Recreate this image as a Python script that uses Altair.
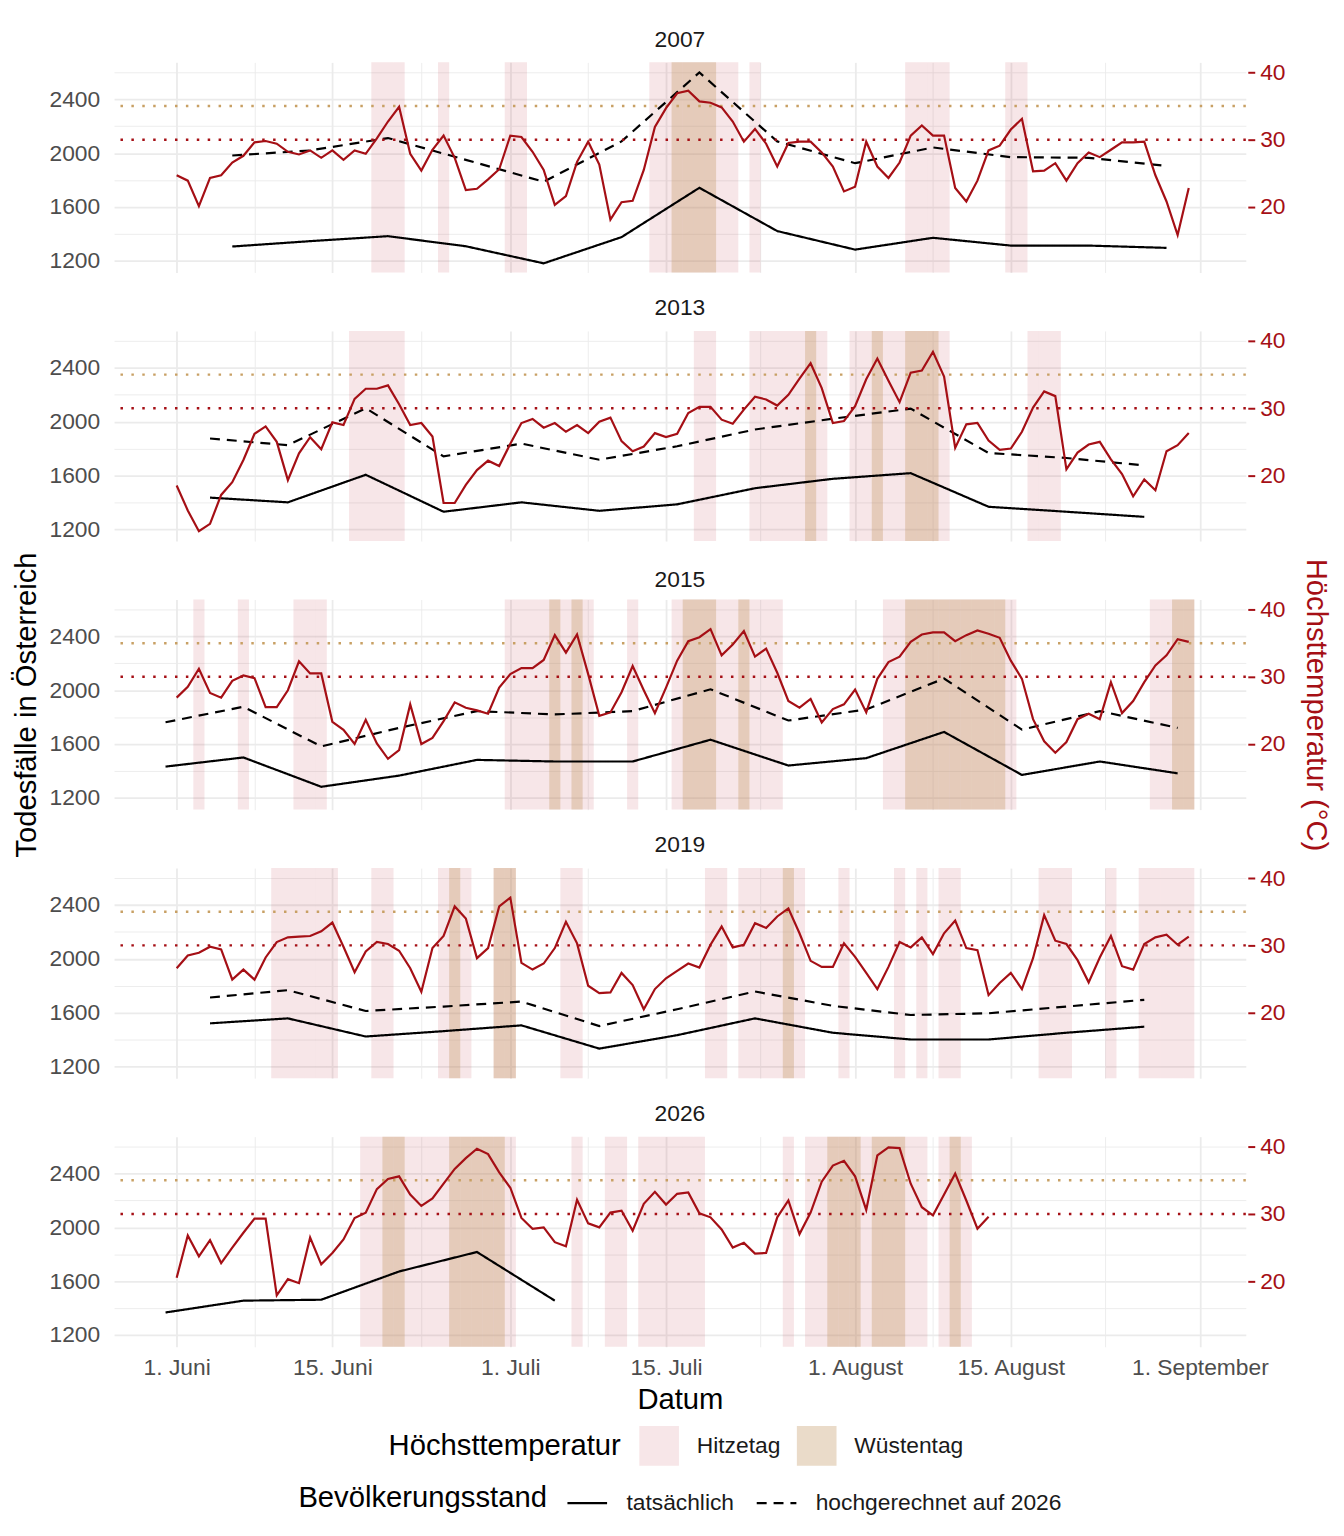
import pandas as pd
import altair as alt

YEARS = [2007, 2013, 2015, 2019, 2026]

# Tägliche Höchsttemperatur (°C), jeweils ab 1. Juni
temp_2007 = [24.7, 23.9, 20.1, 24.3, 24.7, 26.6, 27.6, 29.6, 29.8, 29.4, 28.2, 27.8, 28.4, 27.3, 28.4,
             27.0, 28.4, 27.9, 30.2, 32.7, 34.9, 27.9, 25.4, 28.5, 30.6, 27.3, 22.5, 22.7, 24.1, 25.6,
             30.6, 30.4, 28.2, 25.5, 20.3, 21.6, 26.7, 29.7, 26.3, 18.1, 20.7, 20.9, 25.5, 31.9, 34.7,
             36.9, 37.3, 35.7, 35.5, 34.8, 32.7, 29.7, 31.6, 29.4, 26.0, 29.5, 29.7, 29.7, 28.1, 26.0, 22.3,
             23.0, 29.7, 26.0, 24.3, 26.6, 30.6, 32.1, 30.6, 30.6, 22.8, 20.8, 23.9, 28.4, 29.1, 31.5,
             33.1, 25.3, 25.4, 26.5, 23.9, 26.5, 28.1, 27.4, 28.5, 29.6, 29.6, 29.7, 24.7, 20.8, 15.8, 22.8]
temp_2013 = [18.5, 14.8, 11.7, 12.8, 17.1, 19.0, 22.3, 26.2, 27.3, 25.0, 19.3, 23.3, 25.7, 23.9, 27.9,
             27.5, 31.4, 32.9, 32.9, 33.4, 30.6, 27.5, 27.8, 25.8, 15.9, 15.9, 18.6, 20.8, 22.2, 21.4,
             24.7, 27.8, 28.4, 27.1, 27.8, 26.5, 27.5, 26.3, 28.0, 28.6, 25.1, 23.6, 24.3, 26.3, 25.7,
             26.2, 29.3, 30.2, 30.2, 28.3, 27.7, 29.8, 31.7, 31.3, 30.4, 32.0, 34.4, 36.7, 33.0, 27.8, 28.1,
             30.3, 34.3, 37.4, 34.1, 30.9, 35.3, 35.6, 38.4, 34.7, 24.1, 27.6, 27.8, 25.2, 23.8, 24.0,
             26.5, 30.1, 32.5, 31.8, 20.9, 23.4, 24.6, 25.0, 22.4, 20.2, 16.9, 19.4, 17.8, 23.6, 24.5, 26.3]
temp_2015 = [26.9, 28.5, 31.2, 27.6, 26.9, 29.4, 30.2, 29.8, 25.5, 25.5, 28.0, 32.3, 30.5, 30.5, 23.3,
             22.1, 20.0, 23.6, 20.1, 17.8, 19.1, 25.9, 20.0, 20.9, 23.4, 26.2, 25.4, 25.0, 24.5, 28.4,
             30.4, 31.3, 31.3, 32.5, 36.2, 33.6, 36.3, 30.4, 24.2, 24.7, 27.7, 31.6, 28.0, 24.6, 28.4,
             32.4, 35.3, 35.9, 37.1, 33.2, 34.8, 36.8, 33.0, 34.2, 30.6, 26.4, 25.4, 26.7, 23.2, 25.2, 25.9,
             28.1, 24.7, 29.7, 32.2, 33.0, 35.2, 36.3, 36.6, 36.6, 35.3, 36.2, 36.9, 36.4, 35.8, 32.4,
             29.7, 23.7, 20.4, 18.7, 20.3, 23.7, 24.5, 23.7, 29.2, 24.6, 26.4, 29.2, 31.7, 33.2, 35.6, 35.2]
temp_2019 = [26.6, 28.5, 28.9, 29.8, 29.4, 24.9, 26.4, 24.9, 28.2, 30.5, 31.2, 31.3, 31.4, 32.1, 33.4,
             29.8, 26.0, 29.1, 30.5, 30.2, 29.2, 26.6, 23.1, 29.6, 31.4, 35.8, 34.0, 28.1, 29.6, 35.8,
             37.1, 27.4, 26.4, 27.3, 29.6, 33.5, 30.3, 24.0, 22.9, 23.0, 25.9, 24.1, 20.5, 23.5, 25.1,
             26.2, 27.3, 26.7, 30.1, 32.8, 29.7, 30.1, 33.3, 32.6, 34.3, 35.5, 31.8, 27.7, 26.8, 26.8, 30.3,
             28.3, 25.9, 23.5, 26.8, 30.5, 29.7, 31.2, 28.7, 31.8, 33.7, 29.6, 29.3, 22.6, 24.4, 25.9,
             23.5, 28.1, 34.5, 30.7, 30.2, 27.8, 24.5, 28.2, 31.4, 26.9, 26.4, 30.2, 31.2, 31.6, 30.1, 31.3]
temp_2026 = [20.5, 26.8, 23.7, 26.1, 22.7, 25.0, 27.2, 29.3, 29.3, 17.9, 20.3, 19.7, 26.5, 22.5, 24.2,
             26.2, 29.4, 30.2, 33.7, 35.2, 35.6, 32.9, 31.2, 32.3, 34.5, 36.7, 38.3, 39.7, 38.9, 36.2,
             33.9, 29.4, 27.8, 28.0, 25.8, 25.2, 32.1, 28.6, 28.0, 30.2, 30.5, 27.5, 31.5, 33.3, 31.4,
             33.0, 33.2, 30.1, 29.5, 27.7, 25.0, 25.7, 24.1, 24.2, 29.5, 32.0, 27.0, 30.2, 34.8, 37.2, 37.9,
             35.6, 30.6, 38.7, 39.9, 39.8, 34.5, 31.0, 29.8, 32.9, 36.0, 32.0, 27.8, 29.6]

# Wöchentliche Todesfälle in Österreich
weeks_2007 = ["06-06", "06-13", "06-20", "06-27", "07-04", "07-11", "07-18", "07-25", "08-01", "08-08", "08-15", "08-22", "08-29"]
deaths_2007 = [1305, 1345, 1382, 1307, 1180, 1375, 1742, 1420, 1282, 1370, 1312, 1312, 1295]
projected_2007 = [1982, 2020, 2112, 1950, 1787, 2087, 2600, 2087, 1925, 2042, 1970, 1965, 1905]

weeks_2013 = ["06-04", "06-11", "06-18", "06-25", "07-02", "07-09", "07-16", "07-23", "07-30", "08-06", "08-13", "08-20", "08-27"]
deaths_2013 = [1435, 1400, 1605, 1330, 1400, 1337, 1385, 1505, 1575, 1617, 1367, 1330, 1292]
projected_2013 = [1875, 1825, 2100, 1742, 1837, 1717, 1817, 1942, 2022, 2097, 1767, 1730, 1675]

weeks_2015 = ["05-31", "06-07", "06-14", "06-21", "06-28", "07-05", "07-12", "07-19", "07-26", "08-02", "08-09", "08-16", "08-23", "08-30"]
deaths_2015 = [1432, 1500, 1282, 1365, 1482, 1470, 1470, 1632, 1440, 1495, 1690, 1370, 1470, 1382]
projected_2015 = [1762, 1877, 1582, 1720, 1845, 1820, 1845, 2007, 1775, 1857, 2087, 1707, 1845, 1720]

weeks_2019 = ["06-04", "06-11", "06-18", "06-25", "07-02", "07-09", "07-16", "07-23", "07-30", "08-06", "08-13", "08-20", "08-27"]
deaths_2019 = [1520, 1557, 1422, 1462, 1505, 1332, 1432, 1557, 1450, 1400, 1400, 1450, 1495]
projected_2019 = [1712, 1767, 1612, 1645, 1682, 1500, 1625, 1757, 1650, 1582, 1595, 1645, 1695]

weeks_2026 = ["05-31", "06-07", "06-14", "06-21", "06-28", "07-05"]
deaths_2026 = [1367, 1455, 1462, 1672, 1817, 1455]

tick_dates = ["06-01", "06-15", "07-01", "07-15", "08-01", "08-15", "09-01"]
tick_labels = ["1. Juni", "15. Juni", "1. Juli", "15. Juli", "1. August", "15. August", "1. September"]
death_grid = [1200, 1400, 1600, 1800, 2000, 2200, 2400, 2600]
temp_ticks = [20, 30, 40]

HITZE, WUESTE = 30, 35          # Schwellen Hitzetag / Wüstentag
SEC_FACTOR, SEC_OFFSET = 50, 600  # Todesfälle = 50 * Temperatur + 600

RED = "#A50F15"
TAN = "#C8A064"
GRID = "#EBEBEB"
FONT = "Liberation Sans"
SMALL, BIG = 23, 29.5
PANEL_W, PANEL_H = 1142, 212


def day_of(md):
    return (pd.Timestamp("2001-" + md) - pd.Timestamp("2001-06-01")).days


temps = {2007: temp_2007, 2013: temp_2013, 2015: temp_2015, 2019: temp_2019, 2026: temp_2026}
weekly = {
    2007: (weeks_2007, deaths_2007, projected_2007),
    2013: (weeks_2013, deaths_2013, projected_2013),
    2015: (weeks_2015, deaths_2015, projected_2015),
    2019: (weeks_2019, deaths_2019, projected_2019),
    2026: (weeks_2026, deaths_2026, None),
}

temp_df = pd.DataFrame(
    [(y, d, t) for y in YEARS for d, t in enumerate(temps[y])], columns=["year", "day", "temp"]
)

band_rows = []
for kind, limit in [("Hitzetag", HITZE), ("Wüstentag", WUESTE)]:
    for _, r in temp_df[temp_df["temp"] >= limit].iterrows():
        band_rows.append((r["year"], r["day"] - 0.5, r["day"] + 0.5, kind))
band_df = pd.DataFrame(band_rows, columns=["year", "x1", "x2", "type"])

death_rows = []
for y in YEARS:
    weeks, actual, proj = weekly[y]
    for w, v in zip(weeks, actual):
        death_rows.append((y, day_of(w), v, "tatsächlich"))
    if proj:
        for w, v in zip(weeks, proj):
            death_rows.append((y, day_of(w), v, "hochgerechnet auf 2026"))
death_df = pd.DataFrame(death_rows, columns=["year", "day", "value", "kind"])

# Skalen
Y_MIN, Y_MAX = 1112, 2675
T_MIN, T_MAX = (Y_MIN - SEC_OFFSET) / SEC_FACTOR, (Y_MAX - SEC_OFFSET) / SEC_FACTOR
X_MIN, X_MAX = -5.63, 96.13

tick_days = [day_of(t) for t in tick_dates]
minor_days = [(a + b) / 2 for a, b in zip(tick_days[:-1], tick_days[1:])]
x_values = sorted(tick_days + minor_days)

label_expr = "''"
for d, lab in reversed(list(zip(tick_days, tick_labels))):
    label_expr = f"datum.value == {d} ? '{lab}' : {label_expr}"
major_x = "indexof([" + ",".join(str(d) for d in tick_days) + "], datum.value) >= 0"

x_scale = alt.Scale(domain=[X_MIN, X_MAX], nice=False, zero=False)

fill_legend = alt.Legend(
    orient="none", legendX=277, legendY=1376, direction="horizontal", title="Höchsttemperatur",
    titleOrient="left", titleFontSize=BIG, titleFontWeight="normal", titleColor="black",
    titlePadding=18, titleLimit=500, labelLimit=400, labelFontSize=SMALL, labelColor="#1A1A1A",
    labelOffset=18, columnPadding=16,
    symbolType="square", symbolSize=1600, symbolStrokeWidth=0,
)
dash_legend = alt.Legend(
    orient="none", legendX=186, legendY=1432, direction="horizontal", title="Bevölkerungsstand",
    titleOrient="left", titleFontSize=BIG, titleFontWeight="normal", titleColor="black",
    titlePadding=19, titleLimit=500, labelLimit=400, labelFontSize=SMALL, labelColor="#1A1A1A",
    labelOffset=18, columnPadding=18,
    symbolType="stroke", symbolSize=1600, symbolStrokeWidth=2.2, symbolStrokeColor="black",
)


def panel(year, bottom, middle):
    x_axis = alt.Axis(
        values=x_values, labelExpr=label_expr, labels=bottom, ticks=False, domain=False,
        grid=True, gridColor=GRID,
        gridWidth={"condition": {"test": major_x, "value": 1.8}, "value": 0.9},
        labelFontSize=SMALL, labelColor="#4D4D4D", labelPadding=10,
        title="Datum" if bottom else None, titleFontSize=BIG, titleFontWeight="normal",
        titleColor="black", titlePadding=6, minExtent=0,
    )
    y_left = alt.Y(
        "value:Q", scale=alt.Scale(domain=[Y_MIN, Y_MAX], nice=False, zero=False),
        axis=alt.Axis(
            values=death_grid, format="d",
            labelExpr="datum.value % 400 == 0 ? datum.label : ''",
            grid=True, gridColor=GRID,
            gridWidth={"condition": {"test": "datum.value % 400 == 0", "value": 1.8}, "value": 0.9},
            ticks=False, domain=False, labelFontSize=SMALL, labelColor="#4D4D4D", labelPadding=14.5,
            title="Todesfälle in Österreich" if middle else None, titleFontSize=BIG,
            titleFontWeight="normal", titleColor="black", titlePadding=8,
        ),
    )
    y_right = alt.Y(
        "temp:Q", scale=alt.Scale(domain=[T_MIN, T_MAX], nice=False, zero=False),
        axis=alt.Axis(
            orient="right", values=temp_ticks, grid=False, domain=False,
            tickColor=RED, tickSize=7, tickWidth=2, offset=2,
            labelFontSize=SMALL, labelColor=RED, labelPadding=5,
            title="Höchsttemperatur (°C)" if middle else None, titleFontSize=BIG,
            titleFontWeight="normal", titleColor=RED, titlePadding=16,
        ),
    )

    bands = alt.Chart(band_df[band_df["year"] == year]).mark_rect().encode(
        x=alt.X("x1:Q", scale=x_scale, axis=x_axis),
        x2="x2:Q",
        color=alt.Color(
            "type:N",
            scale=alt.Scale(domain=["Hitzetag", "Wüstentag"],
                            range=["rgba(178,24,43,0.11)", "rgba(196,156,104,0.36)"]),
            legend=fill_legend,
        ),
    )
    deaths = alt.Chart(death_df[death_df["year"] == year]).mark_line(
        color="black", strokeWidth=2.2
    ).encode(
        x=alt.X("day:Q", scale=x_scale, axis=x_axis),
        y=y_left,
        strokeDash=alt.StrokeDash(
            "kind:N",
            scale=alt.Scale(domain=["tatsächlich", "hochgerechnet auf 2026"], range=[[1, 0], [10, 7]]),
            legend=dash_legend,
        ),
    )
    ref_hitze = alt.Chart(pd.DataFrame({"temp": [HITZE]})).mark_rule(
        color=RED, strokeDash=[2.5, 8.5], strokeWidth=2.5
    ).encode(y=y_right)
    ref_wueste = alt.Chart(pd.DataFrame({"temp": [WUESTE]})).mark_rule(
        color=TAN, strokeDash=[2.5, 8.5], strokeWidth=2.5
    ).encode(y=y_right)
    temp_line = alt.Chart(temp_df[temp_df["year"] == year]).mark_line(
        color=RED, strokeWidth=2.2
    ).encode(x=alt.X("day:Q", scale=x_scale, axis=x_axis), y=y_right)

    # the middle panel carries the long axis titles, which reach above the plot
    title_offset = -40 if middle else 10
    right = alt.layer(ref_hitze, ref_wueste, temp_line)
    return alt.layer(bands, deaths, right).resolve_scale(y="independent").properties(
        width=PANEL_W, height=PANEL_H,
        title=alt.Title(str(year), fontSize=SMALL, fontWeight="normal", color="#1A1A1A",
                        anchor="middle", offset=title_offset),
    )


panels = [panel(y, bottom=(i == len(YEARS) - 1), middle=(i == 2)) for i, y in enumerate(YEARS)]

chart = alt.vconcat(*panels, spacing=59, bounds="flush").properties(
    padding={"left": 3, "right": 5, "top": 14, "bottom": 5}
).configure(font=FONT).configure_view(stroke=None)

chart.save("out.html", embed_options={"renderer": "svg", "actions": False})
